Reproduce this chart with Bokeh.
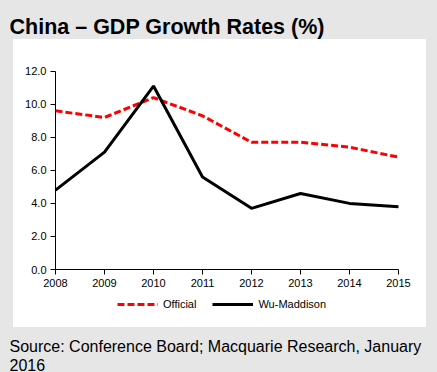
from bokeh.plotting import figure
from bokeh.models import (Range1d, FixedTicker, NumeralTickFormatter, Legend, LegendItem, Label)
from bokeh.embed import file_html
from bokeh.resources import INLINE

years = [2008, 2009, 2010, 2011, 2012, 2013, 2014, 2015]
official = [9.6, 9.2, 10.4, 9.3, 7.7, 7.7, 7.4, 6.8]
wu_maddison = [4.8, 7.1, 11.1, 5.6, 3.7, 4.6, 4.0, 3.8]
y_ticks = [0, 2, 4, 6, 8, 10, 12]
title_text = "China – GDP Growth Rates (%)"
source_lines = ["Source: Conference Board; Macquarie Research, January", "2016"]
series_names = ["Official", "Wu-Maddison"]

GRAY = "#e6e6e6"
FONT = "Liberation Sans"

# page layout (pixels)
W, H = 437, 372
FL, FR, FT, FB = 20, 417, 45, 322          # frame edges
AX_L, AX_R, AX_T, AX_B = 55, 398, 70.7, 269  # where the axes' ends sit
x0, x1 = years[0], years[-1]
y0, y1 = y_ticks[0], y_ticks[-1]
sx = (AX_R - AX_L) / (x1 - x0)
sy = (AX_B - AX_T) / (y1 - y0)
x_range = Range1d(x0 - (AX_L - FL) / sx, x1 + (FR - AX_R) / sx)
y_range = Range1d(y0 - (FB - AX_B) / sy, y1 + (AX_T - FT) / sy)

# gray page with a white panel behind the chart (drawn by CSS under a transparent canvas)
bg_css = ("linear-gradient(#ffffff, #ffffff) 13px 39px / 413px 288px no-repeat, " + GRAY)

p = figure(width=W, height=H, output_backend="svg", toolbar_location=None,
           title=None, x_range=x_range, y_range=y_range,
           min_border_left=FL, min_border_right=W - FR, min_border_top=FT, min_border_bottom=H - FB,
           styles={"background": bg_css})
p.border_fill_color = None
p.background_fill_color = None
p.outline_line_color = None
p.xgrid.visible = False
p.ygrid.visible = False

r1 = p.line(years, official, line_color="#ff0000", line_width=3, line_dash="7 3")
r2 = p.line(years, wu_maddison, line_color="black", line_width=3)

for ax in (p.xaxis[0], p.yaxis[0]):
    ax.axis_line_color = "black"
    ax.axis_line_width = 1
    ax.major_tick_line_color = "black"
    ax.major_tick_out = 5
    ax.major_tick_in = 0
    ax.minor_tick_line_color = None
    ax.major_label_text_font = FONT
    ax.major_label_text_font_size = "11px"
    ax.major_label_text_color = "black"
    ax.major_label_standoff = 4

p.xaxis[0].ticker = FixedTicker(ticks=years)
p.xaxis[0].formatter = NumeralTickFormatter(format="0")
p.xaxis[0].fixed_location = y0
p.xaxis[0].bounds = (x0, x1)
p.yaxis[0].ticker = FixedTicker(ticks=y_ticks)
p.yaxis[0].formatter = NumeralTickFormatter(format="0.0")
p.yaxis[0].fixed_location = x0
p.yaxis[0].bounds = (y0, y1)

legend = Legend(items=[LegendItem(label=series_names[0], renderers=[r1]),
                       LegendItem(label=series_names[1], renderers=[r2])],
                orientation="horizontal", location=(117 - FL, FB - 314),
                glyph_width=41, glyph_height=20, label_height=20, label_width=0,
                label_standoff=5, spacing=16, padding=0, margin=0,
                border_line_color=None, background_fill_color=None,
                label_text_font=FONT, label_text_font_size="11px", label_text_color="black")
p.add_layout(legend)

p.add_layout(Label(x=9, y=26.5, x_units="canvas", y_units="canvas", text=title_text,
                   text_font=FONT, text_font_size="21.5px", text_font_style="bold",
                   text_color="black", text_baseline="alphabetic", text_align="left"), "above")
p.add_layout(Label(x=9, y=346, x_units="canvas", y_units="canvas", text=source_lines[0],
                   text_font=FONT, text_font_size="16px", text_color="black",
                   text_baseline="alphabetic", text_align="left"), "below")
p.add_layout(Label(x=9, y=364, x_units="canvas", y_units="canvas", text=source_lines[1],
                   text_font=FONT, text_font_size="16px", text_color="black",
                   text_baseline="alphabetic", text_align="left"), "below")

open("out.html", "w").write(file_html(p, INLINE))
